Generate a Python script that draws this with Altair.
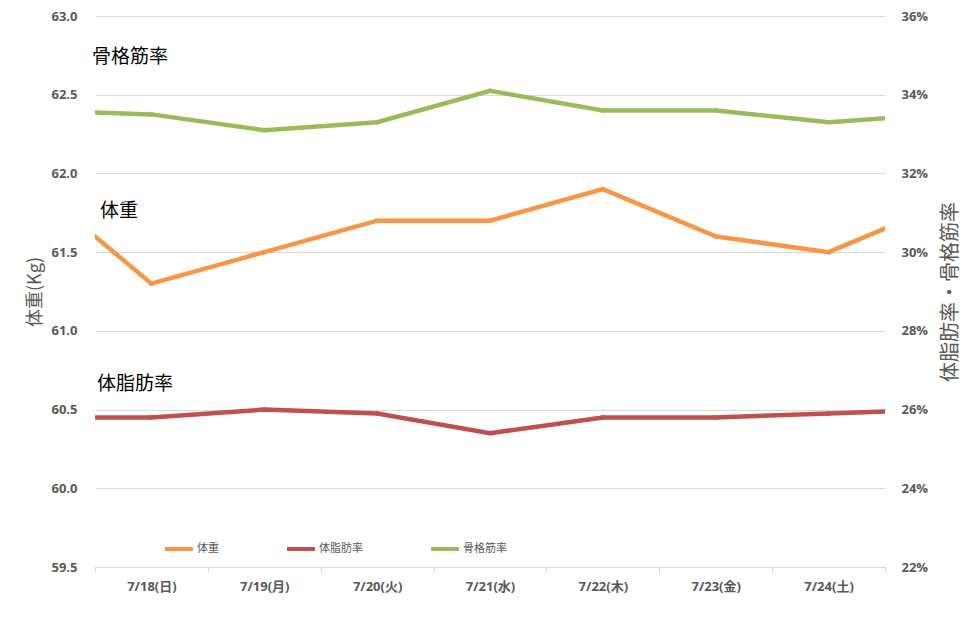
import json
import altair as alt
import pandas as pd

# ---- data ----
day_index = [-1, 0, 1, 2, 3, 4, 5, 6, 7]
day_labels = ["7/18(日)", "7/19(月)", "7/20(火)", "7/21(水)", "7/22(木)", "7/23(金)", "7/24(土)"]
weight = [61.9, 61.3, 61.5, 61.7, 61.7, 61.9, 61.6, 61.5, 61.8]      # 体重 (Kg)
fat = [25.8, 25.8, 26.0, 25.9, 25.4, 25.8, 25.8, 25.9, 26.0]         # 体脂肪率 (%)
muscle = [33.6, 33.5, 33.1, 33.3, 34.1, 33.6, 33.6, 33.3, 33.5]      # 骨格筋率 (%)

series_names = ["体重", "体脂肪率", "骨格筋率"]
series_colors = ["#F79646", "#C0504D", "#9BBB59"]

annot_labels = ["骨格筋率", "体重", "体脂肪率"]
annot_x = [-0.527, -0.456, -0.482]
annot_y = [62.74, 61.76, 60.66]

left_ticks = [59.5, 60.0, 60.5, 61.0, 61.5, 62.0, 62.5, 63.0]
right_ticks = [22, 24, 26, 28, 30, 32, 34, 36]

# ---- tables ----
rows = []
for name, vals in zip(series_names, [weight, fat, muscle]):
    for i, v in zip(day_index, vals):
        rows.append({"series": name, "i": i, "value": v})
df = pd.DataFrame(rows)
annot = pd.DataFrame({"label": annot_labels, "i": annot_x, "value": annot_y})

GRAY = "#595959"
FONT = "Open Sans, Noto Sans CJK JP"
boundaries = [k - 0.5 for k in range(0, 8)]
label_expr = "(" + json.dumps(day_labels, ensure_ascii=False) + ")[datum.value + 0.5] || ''"

x_enc = alt.X(
    "i:Q",
    scale=alt.Scale(domain=[-0.5, 6.5], nice=False, zero=False),
    axis=alt.Axis(
        values=boundaries, labelExpr=label_expr, labelOffset=56.4, labelFlush=False,
        labelOverlap=False, grid=False, ticks=True, tickSize=5, tickColor="#D9D9D9",
        domainColor="#D9D9D9", labelPadding=8, labelFontSize=13, labelFontWeight="bold",
        labelColor=GRAY, labelFont=FONT, title=None,
    ),
)

y_left = alt.Y(
    "value:Q",
    scale=alt.Scale(domain=[59.5, 63.0], nice=False, zero=False),
    axis=alt.Axis(
        orient="left", values=left_ticks, format=".1f", grid=True, gridColor="#D9D9D9",
        domain=False, ticks=False, labelPadding=18, labelFontSize=13, labelFontWeight="bold",
        labelColor=GRAY, labelFont=FONT, title="体重(Kg)", titleFontSize=18,
        titleFontWeight="normal", titleColor=GRAY, titleFont="Noto Sans CJK JP", titlePadding=6,
    ),
)

y_right = alt.Y(
    "value:Q",
    scale=alt.Scale(domain=[22, 36], nice=False, zero=False),
    axis=alt.Axis(
        orient="right", values=right_ticks, labelExpr="datum.value + '%'", grid=False,
        domain=False, ticks=False, labelPadding=16, labelFontSize=13, labelFontWeight="bold",
        labelColor=GRAY, labelFont=FONT, title="体脂肪率・骨格筋率", titleFontSize=20,
        titleFontWeight="normal", titleColor=GRAY, titleFont="Noto Sans CJK JP",
        titleAngle=270, titleBaseline="top", titlePadding=13,
    ),
)

color_enc = alt.Color(
    "series:N",
    scale=alt.Scale(domain=series_names, range=series_colors),
    legend=alt.Legend(
        orient="none", legendX=68, legendY=517, direction="horizontal", title=None,
        symbolType="stroke", symbolSize=784, symbolStrokeWidth=4, labelFontSize=11,
        labelColor=GRAY, labelFont="Noto Sans CJK JP", columnPadding=60, labelOffset=2,
    ),
)

base = alt.Chart(df)
on_day = "datum.i >= 0 && datum.i <= 6"

w_line = base.transform_filter("datum.series == '体重'").mark_line(strokeWidth=4.5, clip=True).encode(
    x=x_enc, y=y_left, color=color_enc)
w_pts = base.transform_filter("datum.series == '体重'").transform_filter(on_day).mark_circle(
    size=22, opacity=1, clip=True).encode(x=x_enc, y=y_left, color=color_enc)
texts = alt.Chart(annot).mark_text(align="left", baseline="middle", fontSize=19,
                                   font="Noto Sans CJK JP", color="#000000").encode(
    x=x_enc, y=y_left, text="label:N")

p_line = base.transform_filter("datum.series != '体重'").mark_line(strokeWidth=4.5, clip=True).encode(
    x=x_enc, y=y_right, color=color_enc)
p_pts = base.transform_filter("datum.series != '体重'").transform_filter(on_day).mark_circle(
    size=22, opacity=1, clip=True).encode(x=x_enc, y=y_right, color=color_enc)

left = alt.layer(w_line, w_pts, texts)
right = alt.layer(p_line, p_pts)

chart = alt.layer(left, right).resolve_scale(y="independent").properties(
    width=790, height=551,
    autosize=alt.AutoSizeParams(type="none"),
    padding={"left": 87, "top": 8, "right": 80, "bottom": 60},
).configure(background="white").configure_view(stroke=None)

chart.save("out.html", embed_options={"renderer": "svg", "actions": False})
